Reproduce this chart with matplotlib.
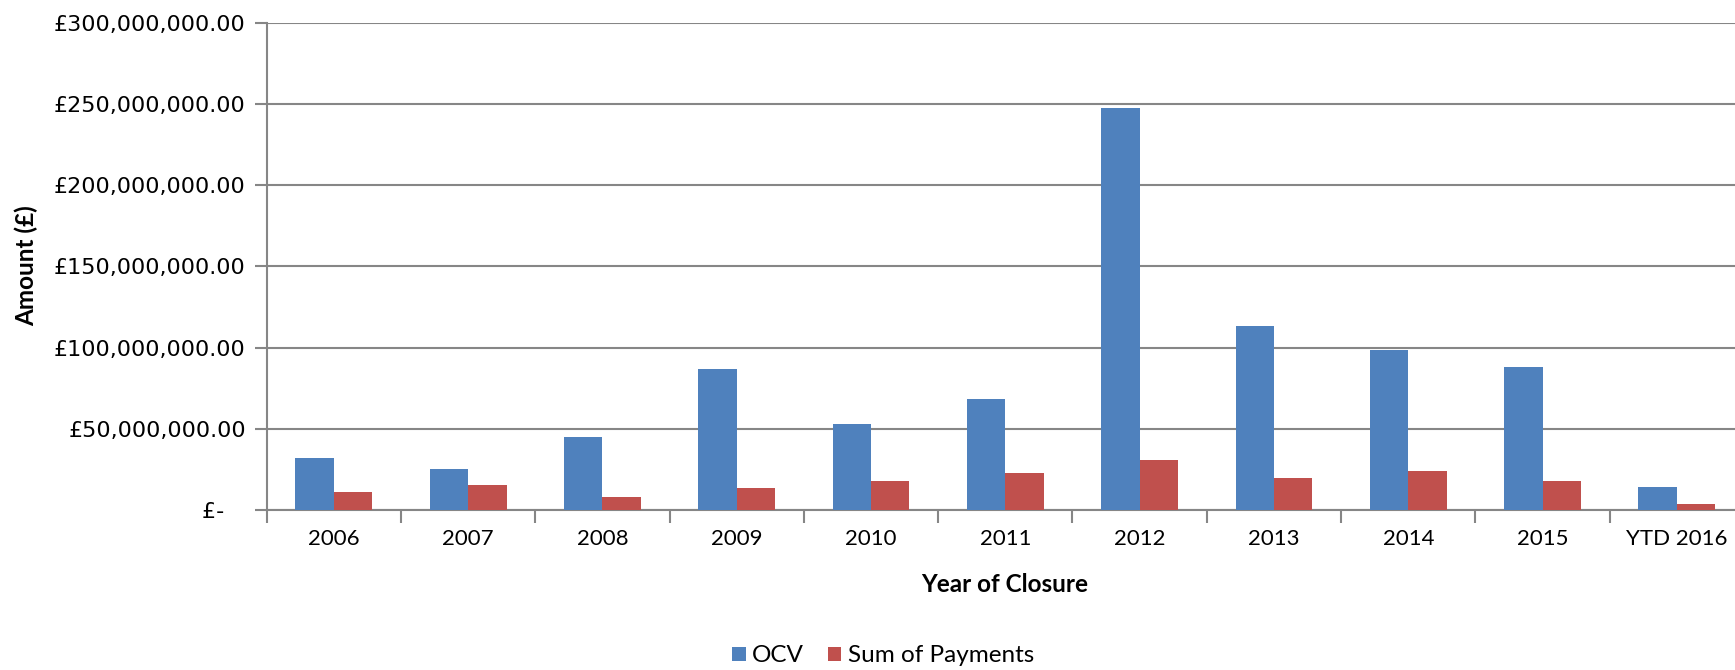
import numpy as np
import matplotlib.pyplot as plt
from matplotlib.ticker import FuncFormatter

# Данные графика (в миллионах фунтов)
years = ['2006', '2007', '2008', '2009', '2010', '2011', '2012', '2013', '2014', '2015', 'YTD 2016']
ocv = [31.9, 25.5, 44.7, 86.8, 52.8, 68.4, 247.8, 113.3, 98.5, 88.0, 14.0]
payments = [10.9, 15.6, 7.9, 13.8, 18.1, 22.8, 30.7, 20.0, 24.0, 18.0, 4.0]

BLUE = '#4F81BD'
RED = '#C0504D'
GRID = '#868686'


def money(v, pos):
    if v == 0:
        return '£-   '
    return '£{:,.2f}'.format(v)


def plot_graph():
    fig = plt.figure(figsize=(17.35, 6.7), dpi=100)
    ax = fig.add_axes([0.1537, 0.2388, 0.8515, 0.727])

    x = np.arange(len(years))
    w = 0.286
    ax.bar(x - w / 2, np.array(ocv) * 1e6, w, color=BLUE, label='OCV', zorder=3)
    ax.bar(x + w / 2, np.array(payments) * 1e6, w, color=RED, label='Sum of Payments', zorder=3)

    ax.set_xlim(-0.5, len(years) - 0.5)
    ax.set_ylim(0, 300e6)
    ax.set_yticks(np.arange(0, 300e6 + 1, 50e6))
    ax.yaxis.set_major_formatter(FuncFormatter(money))

    ax.set_xticks(x)
    ax.set_xticklabels(years, fontfamily='Lato', fontsize=16)
    ax.set_xticks(np.arange(len(years) + 1) - 0.5, minor=True)
    ax.tick_params(axis='x', which='major', length=0, pad=14)
    ax.tick_params(axis='x', which='minor', length=9, width=1.5, color=GRID)
    ax.tick_params(axis='y', length=9, width=1.5, color=GRID, pad=6)
    for lbl in ax.get_yticklabels():
        lbl.set_fontfamily('DejaVu Sans')
        lbl.set_fontsize(16)

    ax.grid(axis='y', color=GRID, linewidth=1.5, zorder=0)
    for side in ['top', 'right']:
        ax.spines[side].set_visible(False)
    for side in ['left', 'bottom']:
        ax.spines[side].set_color(GRID)
        ax.spines[side].set_linewidth(1.5)

    fig.text(0.579, 0.127, 'Year of Closure', ha='center', va='center',
             fontfamily='Lato', fontweight='bold', fontsize=17.5)
    fig.text(0.015, 0.603, 'Amount (£)', ha='center', va='center', rotation=90,
             fontfamily='Lato', fontweight='bold', fontsize=17.5)

    fig.legend(loc='center', bbox_to_anchor=(0.509, 0.021), ncol=2, frameon=False,
               prop={'family': 'Lato', 'size': 17.5}, handlelength=0.55, handleheight=0.55,
               handletextpad=0.25, columnspacing=1.0)

    fig.savefig('out.png')


if __name__ == '__main__':
    plot_graph()
